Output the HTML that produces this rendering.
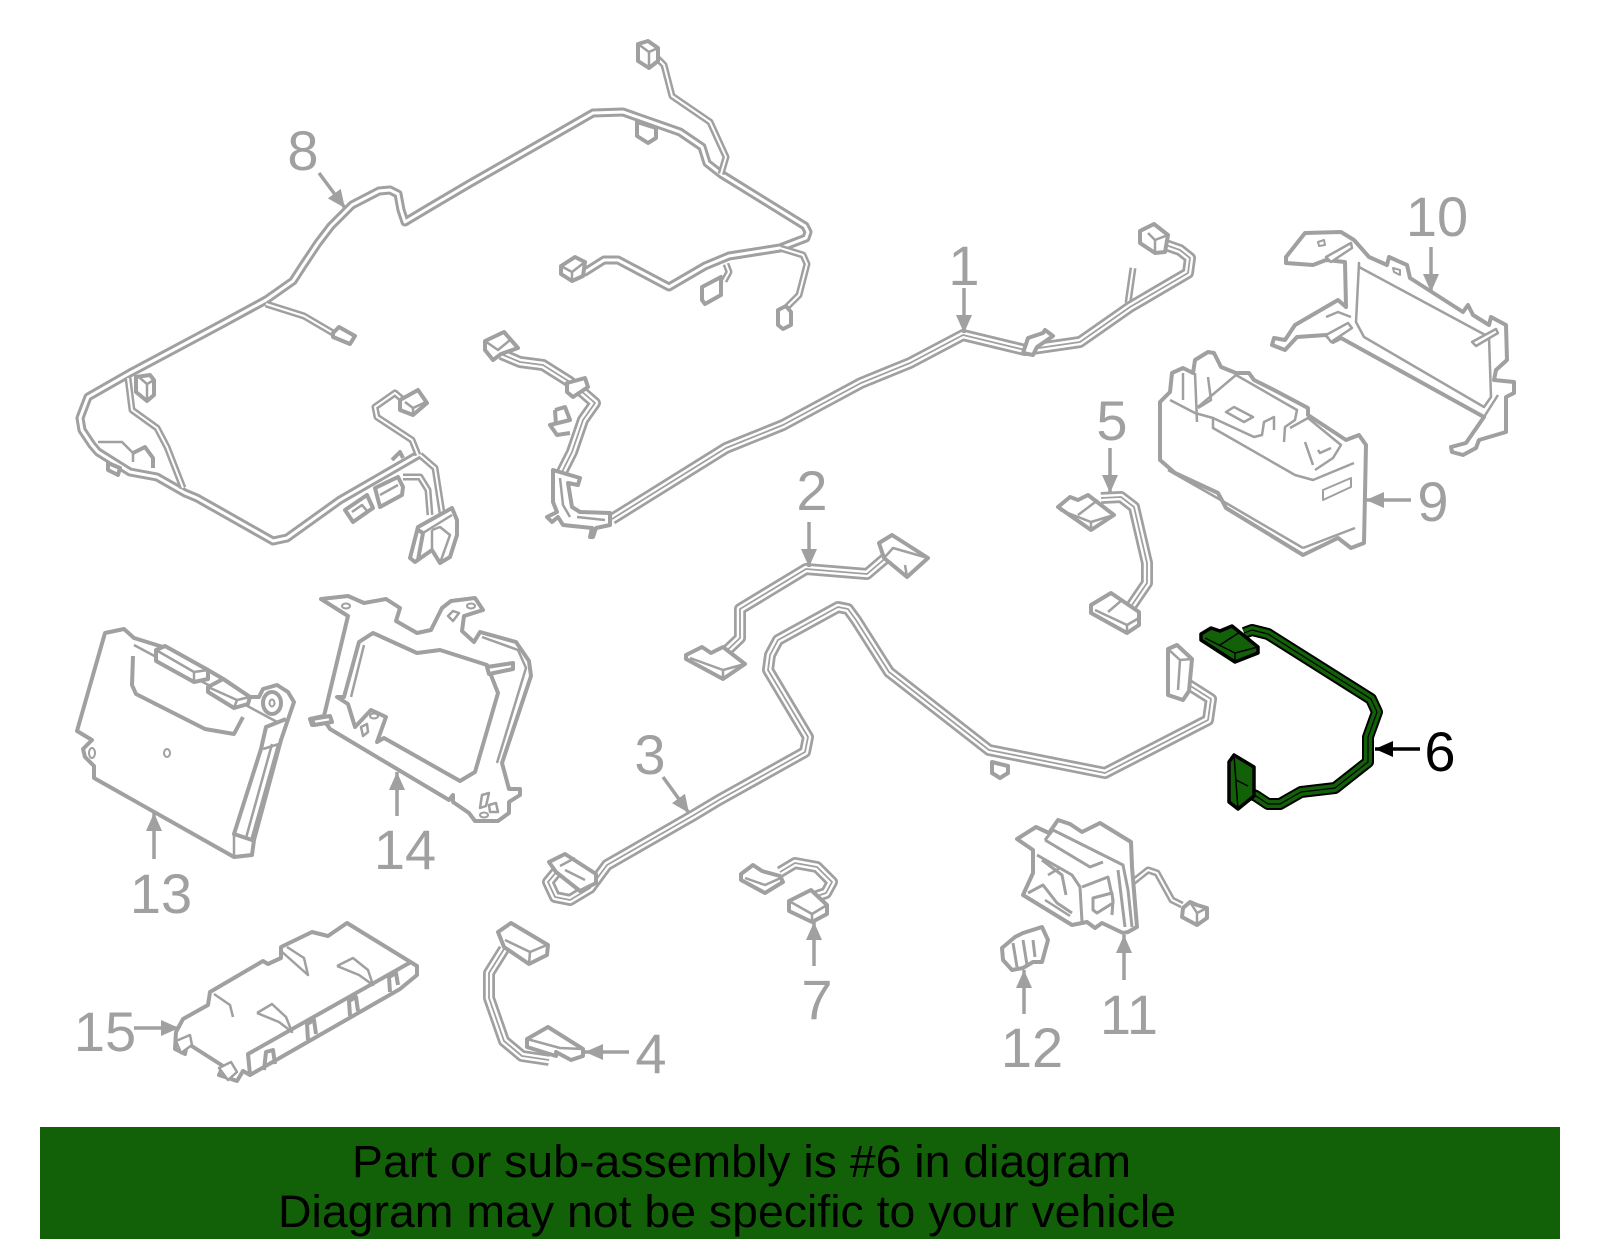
<!DOCTYPE html>
<html><head><meta charset="utf-8"><style>
html,body{margin:0;padding:0;background:#fff}
svg{display:block}
text{font-family:"Liberation Sans",sans-serif}
.n{font-size:56px;fill:#a0a0a0;text-anchor:middle}
.s polygon,.s polyline,.s circle,.s ellipse{stroke:#a0a0a0;stroke-width:4;stroke-linejoin:round;fill:#fff}
.s polyline.t{fill:none;stroke-width:2.5}
.s polyline.o{fill:none}
.a line{stroke:#a0a0a0;stroke-width:3.5}
.wr{fill:none;stroke-linejoin:round;stroke-linecap:butt}
</style></head><body>
<svg width="1600" height="1249" viewBox="0 0 1600 1249" xmlns="http://www.w3.org/2000/svg">
<defs>
<marker id="g" markerUnits="userSpaceOnUse" markerWidth="20" markerHeight="18" refX="18" refY="8" orient="auto"><polygon points="0,0 18,8 0,16" fill="#a0a0a0"/></marker>
<marker id="b" markerUnits="userSpaceOnUse" markerWidth="20" markerHeight="18" refX="18" refY="8" orient="auto"><polygon points="0,0 18,8 0,16" fill="#000"/></marker>
<g id="h8">
<polyline points="418,455 340,500 287,538 273,541 250,528 197,498 185,493 157,477 130,472 98,452 92,445 82,430 80,418 88,397 130,373 220,325 266,300 293,281 304,264 318,243 331,226 352,205 379,191 390,190 398,194 401,210 405,222 425,210 469,184 553,136 593,113 623,112 680,132 702,147 707,163 721,174 805,226 808,232 806,238 780,248 729,256 705,266 669,287 618,260 604,260 585,272 575,274"/>
</g>
<g id="h8b">
<polyline points="721,174 726,157 710,122 672,96 664,65 656,57"/>
<polyline points="780,248 803,255 807,264 799,295 786,308"/>
<polyline points="726,264 729,272 724,281"/>
<polyline points="266,304 304,316 333,333"/>
<polyline points="128,378 132,410 157,428 167,447 183,488"/>
<polyline points="418,455 412,440 377,417 375,407 395,393 403,400"/>
<polyline points="420,455 435,468 442,513"/>
<polyline points="403,477 420,477 428,490 430,515"/>
</g>
<g id="h1">
<polyline points="1160,243 1180,250 1190,258 1188,273 1130,307 1080,342 1025,350 963,335 910,363 861,383 783,425 726,448 612,519"/>
<polyline points="562,472 572,452 583,420 595,403 580,390 570,382 543,365 520,362 501,354"/>
</g>
<g id="h1b"><polyline points="1133,268 1128,303"/></g>
<g id="h2"><polyline points="719,658 740,638 740,609 806,569 867,574 888,556"/></g>
<g id="h3"><polyline points="558,870 548,882 555,897 570,900 590,888 607,865 694,815 719,800 805,752 808,737 768,670 770,655 778,640 838,607 848,609 856,620 889,672 989,750 1105,773 1208,720 1211,699 1189,685"/></g>
<g id="h4"><polyline points="504,949 489,973 489,998 504,1041 522,1056 549,1060"/></g>
<g id="h5"><polyline points="1101,498 1121,497 1134,507 1147,563 1147,583 1132,605"/></g>
<g id="h6"><polyline points="1244,633 1252,630 1268,634 1371,699 1377,712 1368,737 1368,762 1335,788 1301,792 1280,804 1268,804 1256,796 1247,792"/></g>
<g id="h7"><polyline points="780,872 795,863 817,867 832,882 826,893 814,897"/></g>
<g id="h11"><polyline points="1133,882 1148,870 1157,873 1172,900 1182,905"/></g>
</defs>
<rect width="1600" height="1249" fill="#fff"/>

<g class="wr" stroke="#a0a0a0" stroke-width="9"><use href="#h8"/></g>
<g class="wr" stroke="#fff" stroke-width="3"><use href="#h8"/></g>
<g class="wr" stroke="#a0a0a0" stroke-width="7"><use href="#h8b"/><use href="#h1b"/><use href="#h11"/></g>
<g class="wr" stroke="#fff" stroke-width="2"><use href="#h8b"/><use href="#h1b"/><use href="#h11"/></g>
<g class="wr" stroke="#a0a0a0" stroke-width="12"><use href="#h1"/><use href="#h2"/><use href="#h3"/><use href="#h4"/><use href="#h5"/><use href="#h7"/></g>
<g class="wr" stroke="#fff" stroke-width="6.5"><use href="#h1"/><use href="#h2"/><use href="#h3"/><use href="#h4"/><use href="#h5"/><use href="#h7"/></g>
<g class="wr" stroke="#a0a0a0" stroke-width="1.8"><use href="#h1"/><use href="#h2"/><use href="#h3"/><use href="#h4"/><use href="#h5"/><use href="#h7"/></g>

<g class="s">
<!-- 8 connectors -->
<polygon points="638,44 648,41 658,48 658,61 649,68 638,61"/><polyline class="t" points="638,44 649,52 658,48"/><polyline class="t" points="649,52 649,68"/>
<polygon points="637,122 637,136 648,143 656,138 656,128"/>
<polygon points="778,310 786,306 791,312 791,325 783,329 778,325"/>
<polygon points="561,266 575,257 585,262 583,276 572,281 561,274"/><polyline class="t" points="561,266 572,272 585,262"/><polyline class="t" points="572,272 572,281"/>
<polygon points="702,287 721,277 721,295 705,304 702,300"/>
<polygon points="333,333 339,327 355,336 350,344 333,337"/>
<polygon points="136,377 150,375 154,380 154,395 147,401 136,392"/><polyline class="t" points="140,378 147,384 154,380"/><polyline class="t" points="147,384 147,401"/>
<polygon points="108,463 108,470 118,475 120,468"/>
<polyline class="t" points="98,442 122,442 133,453 133,462"/>
<polyline class="o" points="133,453 145,447 153,458 153,468"/>
<polygon points="400,400 418,390 427,403 413,415 400,410"/><polyline class="t" points="405,402 413,408 426,402"/><polyline class="t" points="413,408 413,415"/>
<polygon points="345,510 367,495 373,508 353,522"/><polyline class="t" points="352,512 362,505 368,512"/>
<polygon points="375,488 398,477 403,487 402,495 380,507"/><polyline class="t" points="380,495 398,485"/>
<polyline class="o" points="392,460 400,452 403,458"/>
<polygon points="418,527 452,508 457,520 457,535 450,557 440,563 432,550 415,562 410,558"/>
<polyline class="o" points="418,530 423,533 418,560"/><polyline class="t" points="423,533 452,515"/><polyline class="t" points="432,530 440,527 450,535 440,563"/><polyline class="t" points="432,530 432,550"/>
<!-- 1 connectors -->
<polygon points="485,341 504,332 518,348 501,354 493,360 485,350"/><polyline class="t" points="485,341 498,350 510,340"/>
<polygon points="567,383 585,378 588,387 573,397 567,392"/>
<polyline class="o" points="555,410 565,407 570,420 550,425 557,435 570,433"/>
<polyline class="o" points="555,410 556,425"/>
<polygon points="1140,231 1154,224 1168,235 1165,252 1155,253 1140,243"/><polyline class="t" points="1148,233 1155,240 1168,235"/><polyline class="t" points="1155,240 1155,253"/>
<polygon points="1023,353 1028,338 1043,333 1045,330 1053,336 1037,347 1033,355"/>
<polygon points="553,470 580,478 578,485 568,483 572,507 580,512 610,513 610,525 596,528 593,537 590,537 592,528 563,525 558,517 552,522 547,517 557,512 553,502"/>
<polyline class="t" points="560,478 563,505 570,517"/><polyline class="t" points="577,517 605,520"/>
<!-- 2 -->
<polygon points="879,543 892,535 928,558 907,577 884,558"/><polyline class="t" points="884,558 893,548 928,558"/><polyline class="t" points="905,565 907,577"/>
<polygon points="686,655 702,647 711,653 723,647 745,664 723,679 686,659"/><polyline class="t" points="690,658 723,670 745,664"/><polyline class="t" points="723,670 723,679"/>
<!-- 3 -->
<polygon points="549,862 565,854 596,874 596,883 580,891 556,872"/><polyline class="t" points="560,866 575,858"/><polyline class="t" points="565,870 585,880"/>
<polygon points="992,762 992,773 1000,778 1008,773 1008,766"/>
<polygon points="1168,649 1177,645 1192,659 1189,691 1183,700 1168,695"/><polyline class="t" points="1168,649 1180,660 1192,659"/><polyline class="t" points="1180,660 1178,690"/>
<!-- 4 -->
<polygon points="498,932 511,923 548,945 547,955 529,964 504,947"/><polyline class="t" points="505,940 530,952 547,945"/><polyline class="t" points="530,952 529,964"/>
<polygon points="527,1039 548,1027 583,1049 583,1056 571,1060 556,1052 556,1056 527,1047"/><polyline class="t" points="527,1039 560,1048 583,1049"/>
<!-- 5 -->
<polygon points="1058,507 1070,497 1078,500 1088,495 1114,515 1091,530"/><polyline class="t" points="1060,510 1091,522 1114,515"/><polyline class="t" points="1091,522 1091,530"/><polyline class="t" points="1078,515 1098,500"/>
<polygon points="1091,605 1111,593 1139,612 1139,625 1127,633 1091,613"/><polyline class="t" points="1095,610 1127,625 1139,618"/><polyline class="t" points="1127,625 1127,633"/><polyline class="t" points="1108,612 1122,600"/>
<!-- 7 -->
<polygon points="741,874 753,865 762,871 780,876 783,882 765,893 741,880"/><polyline class="t" points="745,878 765,885 783,877"/>
<polygon points="789,901 811,890 827,905 827,914 812,922 789,911"/><polyline class="t" points="789,901 812,914 827,905"/><polyline class="t" points="812,914 812,922"/>
<!-- 11 -->
<polygon points="1017,839 1036,827 1049,833 1058,820 1070,824 1082,832 1100,823 1131,842 1132,867 1137,927 1128,932 1123,933 1102,923 1095,928 1087,922 1072,925 1023,895 1033,873 1033,850"/>
<polyline class="t" points="1045,840 1053,830 1123,865 1128,890 1132,927" style="stroke-width:3"/>
<polyline class="t" points="1045,840 1090,867 1103,862" style="stroke-width:3"/>
<polyline class="t" points="1118,870 1125,927" style="stroke-width:3"/>
<polyline class="t" points="1037,855 1072,875 1080,887 1082,922" style="stroke-width:3"/>
<polyline class="t" points="1082,887 1108,877 1113,900 1112,915" style="stroke-width:3"/>
<polyline class="t" points="1042,860 1062,875 1066,895" style="stroke-width:3"/>
<polyline class="t" points="1028,893 1043,885 1057,903 1072,913" style="stroke-width:3"/>
<polyline class="t" points="1048,875 1060,868"/>
<polyline class="t" points="1045,900 1070,916"/>
<polygon points="1093,898 1112,893 1113,903 1097,913 1093,910" style="stroke-width:3"/>
<polygon points="1183,908 1190,902 1197,905 1207,908 1207,918 1197,925 1182,917"/><polyline class="t" points="1190,902 1197,913 1207,908"/><polyline class="t" points="1197,913 1197,925"/>
<!-- 12 -->
<polygon points="1002,948 1015,937 1023,933 1042,927 1048,940 1042,962 1033,962 1023,968 1012,970 1003,960"/>
<polyline class="t" points="1013,943 1017,967" style="stroke-width:3"/><polyline class="t" points="1023,940 1027,965" style="stroke-width:3"/><polyline class="t" points="1033,940 1035,957" style="stroke-width:3"/>
<!-- 13 -->
<polygon points="105,633 124,629 134,638 163,647 208,670 225,680 250,697 259,697 263,689 277,685 288,692 294,702 281,740 254,840 252,855 234,857 94,778 94,766 85,757 83,749 92,740 77,731"/>
<polyline class="t" points="134,645 279,723"/>
<polyline class="o" points="133,656 132,685 136,694 205,729 234,734 243,717"/>
<polygon points="156,650 165,646 208,670 208,679 194,682 156,661"/><polyline class="t" points="156,650 194,672 208,670"/><polyline class="t" points="194,672 194,682"/>
<polygon points="208,687 223,679 250,697 248,704 234,708 208,692"/><polyline class="t" points="208,687 237,700 250,697"/><polyline class="t" points="237,700 234,708"/>
<polyline class="o" points="286,719 266,727 261,749 234,834 252,840 279,744"/>
<polyline class="t" points="272,744 246,838"/>
<polyline class="t" points="234,834 234,857"/><polyline class="t" points="263,749 279,744"/>
<ellipse cx="272" cy="703" rx="9" ry="11"/><ellipse cx="272" cy="703" rx="2.5" ry="3.5" style="stroke-width:2"/>
<ellipse cx="167" cy="753" rx="3" ry="4" style="stroke-width:2"/><ellipse cx="92" cy="753" rx="3" ry="5" style="stroke-width:2"/>
<!-- 14 -->
<polygon points="321,599 348,596 364,603 386,599 400,608 396,621 417,633 431,630 442,608 451,601 475,598 483,610 464,616 462,631 474,642 480,632 516,642 529,661 531,676 502,763 509,789 520,789 520,795 509,802 509,813 498,821 475,821 469,813 453,802 453,795 449,800 330,729 326,723 312,725 310,719 324,716 348,616"/>
<polygon points="344,697 359,642 373,633 417,653 440,650 487,665 498,693 475,772 460,781 384,738 377,742 386,717 371,710 355,727 348,704 337,697"/>
<polyline class="t" points="351,697 364,645"/>
<polyline class="t" points="482,637 518,650 526,668 497,763"/>
<polygon points="487,667 513,663 513,669 489,674"/>
<polygon points="312,719 330,716 332,722 314,725"/>
<ellipse cx="346" cy="606" rx="4" ry="2.5" style="stroke-width:2"/><ellipse cx="471" cy="606" rx="4" ry="2.5" style="stroke-width:2"/><ellipse cx="374" cy="716" rx="4" ry="2.5" style="stroke-width:2"/><ellipse cx="484" cy="815" rx="4" ry="2.5" style="stroke-width:2"/>
<polygon points="453,611 459,613 453,621 448,616" style="stroke-width:2.5"/>
<polygon points="361,727 367,724 368,732 363,736" style="stroke-width:2.5"/>
<polygon points="489,805 496,803 498,812 490,812" style="stroke-width:2.5"/>
<polygon points="482,795 489,793 486,806 480,808" style="stroke-width:2.5"/>
<!-- 15 -->
<polygon points="210,992 263,961 268,964 281,958 281,947 312,932 328,936 347,923 417,966 417,975 400,989 250,1075 243,1071 237,1081 219,1075 223,1066 187,1043 185,1054 175,1049 176,1032 183,1019 208,1005"/>
<polyline class="o" points="250,1075 248,1054 411,962"/>
<polyline class="t" points="281,951 308,975 304,958 287,947"/>
<polyline class="t" points="337,966 353,958 368,970 373,985 359,975 337,966"/>
<polyline class="t" points="257,1013 272,1004 286,1017 292,1032 279,1022 257,1013"/>
<polyline class="t" points="214,994 230,1005 233,1017"/>
<polyline class="o" points="264,1070 266,1052 273,1050 275,1064"/>
<polyline class="o" points="308,1040 307,1024 314,1020 316,1034"/>
<polyline class="o" points="350,1016 349,1001 356,997 358,1011"/>
<polyline class="o" points="390,992 389,977 396,973 398,985"/>
<polygon points="176,1041 190,1035 192,1045 181,1053" style="stroke-width:2.5"/>
<polygon points="219,1068 231,1062 237,1072 228,1080" style="stroke-width:2.5"/>
<!-- 9 -->
<polygon points="1160,402 1170,392 1172,373 1183,368 1193,373 1195,360 1208,352 1214,353 1221,367 1236,373 1249,373 1254,380 1274,390 1308,408 1308,415 1346,440 1359,435 1366,445 1364,543 1351,548 1338,538 1303,555 1226,508 1218,493 1175,473 1160,460"/>
<polyline class="t" points="1303,548 1355,528"/>
<polyline class="t" points="1168,470 1226,503 1303,548"/>
<polyline class="t" points="1170,400 1195,413 1213,418 1213,428 1295,475 1313,480 1354,463"/>
<polyline class="t" points="1198,407 1236,375 1297,410 1295,420 1285,427 1284,442"/>
<polyline class="t" points="1213,418 1254,437 1262,435 1264,422 1274,417 1274,430"/>
<polyline class="t" points="1290,428 1308,418 1341,445 1333,458 1315,470"/>
<polyline class="t" points="1305,442 1313,465"/><polyline class="t" points="1318,450 1320,453 1331,448"/>
<polygon points="1323,490 1351,478 1351,487 1323,500" style="stroke-width:2"/>
<polygon points="1226,412 1234,407 1253,417 1244,422" style="stroke-width:2.5"/>
<polyline class="t" points="1183,373 1183,400"/><polyline class="t" points="1195,373 1197,422"/><polyline class="t" points="1208,377 1211,400 1198,408"/>
<!-- 10 -->
<polygon points="1305,233 1341,232 1354,240 1369,257 1387,265 1389,257 1407,265 1410,278 1463,312 1468,305 1473,315 1489,325 1491,317 1506,325 1507,360 1496,370 1494,380 1514,382 1514,393 1506,397 1506,432 1479,440 1476,448 1463,455 1452,452 1451,447 1466,443 1484,417 1341,338 1333,342 1326,335 1297,337 1285,350 1272,345 1274,338 1285,340 1295,325 1338,300 1346,307 1345,262 1326,260 1313,265 1286,263 1286,257"/>
<polygon points="1359,263 1356,322 1364,337 1484,407 1491,397 1489,337 1359,267" style="stroke-width:2.5"/>
<polyline class="t" points="1484,417 1498,395"/>
<polygon points="1326,257 1351,243 1352,248 1331,262" style="stroke-width:2.5"/>
<polygon points="1326,335 1348,323 1352,328 1331,342" style="stroke-width:2.5"/>
<polygon points="1472,342 1496,329 1498,333 1476,346" style="stroke-width:2.5"/>
<polygon points="1318,242 1324,240 1325,245 1319,246" style="stroke-width:2"/>
<polygon points="1393,268 1400,270 1400,275 1394,272" style="stroke-width:2"/>
<polyline class="t" points="1326,317 1338,312 1351,317"/>
</g>

<!-- part 6 -->
<g class="wr" stroke="#000" stroke-width="12"><use href="#h6"/></g>
<g class="wr" stroke="#126108" stroke-width="8"><use href="#h6"/></g>
<g class="wr" stroke="#000" stroke-width="1.2"><use href="#h6"/></g>
<g stroke="#000" stroke-width="3.5" fill="#126108" stroke-linejoin="round">
<polygon points="1201,634 1211,628 1220,631 1232,626 1258,647 1258,653 1235,662 1201,640"/>
<polygon points="1229,762 1234,755 1254,767 1254,796 1238,809 1229,802"/>
<polyline fill="none" stroke-width="1.5" points="1205,638 1235,653 1258,647"/><polyline fill="none" stroke-width="1.5" points="1235,653 1235,662"/><polyline fill="none" stroke-width="1.5" points="1220,645 1240,632"/>
<polyline fill="none" stroke-width="1.5" points="1234,755 1238,809"/><polyline fill="none" stroke-width="1.5" points="1236,780 1248,786"/>
</g>

<!-- arrows -->
<g class="a">
<line x1="319" y1="173" x2="345" y2="208" marker-end="url(#g)"/>
<line x1="964" y1="288" x2="964" y2="333" marker-end="url(#g)"/>
<line x1="1431" y1="247" x2="1431" y2="292" marker-end="url(#g)"/>
<line x1="1110" y1="448" x2="1110" y2="493" marker-end="url(#g)"/>
<line x1="809" y1="522" x2="809" y2="567" marker-end="url(#g)"/>
<line x1="1411" y1="500" x2="1366" y2="500" marker-end="url(#g)"/>
<line x1="663" y1="777" x2="689" y2="813" marker-end="url(#g)"/>
<line x1="154" y1="859" x2="154" y2="813" marker-end="url(#g)"/>
<line x1="397" y1="816" x2="397" y2="772" marker-end="url(#g)"/>
<line x1="134" y1="1028" x2="179" y2="1028" marker-end="url(#g)"/>
<line x1="629" y1="1052" x2="585" y2="1052" marker-end="url(#g)"/>
<line x1="814" y1="966" x2="814" y2="922" marker-end="url(#g)"/>
<line x1="1124" y1="980" x2="1124" y2="935" marker-end="url(#g)"/>
<line x1="1024" y1="1014" x2="1024" y2="970" marker-end="url(#g)"/>
<line x1="1420" y1="749" x2="1375" y2="749" style="stroke:#000" marker-end="url(#b)"/>
</g>

<!-- labels -->
<text class="n" x="303" y="170">8</text>
<text class="n" x="964" y="285">1</text>
<text class="n" x="1437" y="236">10</text>
<text class="n" x="1112" y="440">5</text>
<text class="n" x="812" y="510">2</text>
<text class="n" x="1433" y="521">9</text>
<text class="n" x="650" y="774">3</text>
<text class="n" x="1440" y="771" style="fill:#000">6</text>
<text class="n" x="405" y="869">14</text>
<text class="n" x="161" y="913">13</text>
<text class="n" x="817" y="1019">7</text>
<text class="n" x="1129" y="1034">11</text>
<text class="n" x="1032" y="1067">12</text>
<text class="n" x="105" y="1051">15</text>
<text class="n" x="651" y="1073">4</text>

<!-- banner -->
<rect x="40" y="1127" width="1520" height="112" fill="#126108"/>
<text x="352" y="1177" font-size="45" fill="#000" textLength="779" lengthAdjust="spacingAndGlyphs">Part or sub-assembly is #6 in diagram</text>
<text x="278" y="1227" font-size="45" fill="#000" textLength="898" lengthAdjust="spacingAndGlyphs">Diagram may not be specific to your vehicle</text>
</svg>
</body></html>
